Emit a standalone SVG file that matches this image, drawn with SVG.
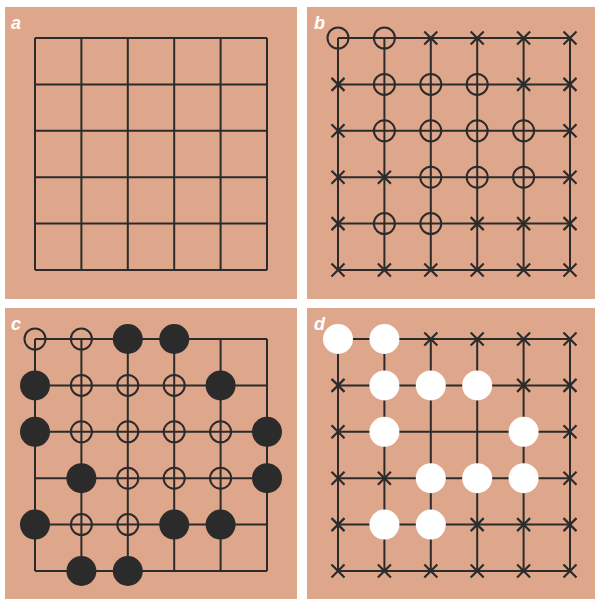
<svg xmlns="http://www.w3.org/2000/svg" width="595" height="599" viewBox="0 0 595 599">
<defs>
<style>
.bg{fill:#dea78b}
.grid{fill:none;stroke:#2b2b2b;stroke-width:2}
.o{fill:none;stroke:#2b2b2b;stroke-width:2}
.k{fill:#2b2b2b}
.w{fill:#ffffff}
.x{stroke:#2b2b2b;stroke-width:2.2;fill:none}
.lbl{font-family:"Liberation Sans",Arial,sans-serif;font-weight:bold;font-style:italic;font-size:18px;fill:#ffffff}
</style>
<path id="gridpath" d="M0 0H232M0 46.4H232M0 92.8H232M0 139.2H232M0 185.6H232M0 232H232M0 0V232M46.4 0V232M92.8 0V232M139.2 0V232M185.6 0V232M232 0V232"/>
<path id="xm" d="M-6.5 -6.5L6.5 6.5M-6.5 6.5L6.5 -6.5"/>
<circle id="oc" r="10.5"/>
<circle id="fc" r="15"/>
</defs>
<rect width="595" height="599" fill="#ffffff"/>

<g id="panel-a">
<rect class="bg" x="5" y="7" width="292" height="292"/>
<text class="lbl" x="11" y="29">a</text>
<use href="#gridpath" class="grid" x="35" y="38"/>
</g>

<g id="panel-b">
<rect class="bg" x="307" y="7" width="288" height="292"/>
<text class="lbl" x="314" y="29">b</text>
<use href="#gridpath" class="grid" x="338" y="38"/>
<g class="o">
<use href="#oc" x="338" y="38"/><use href="#oc" x="384.4" y="38"/>
<use href="#oc" x="384.4" y="84.4"/><use href="#oc" x="430.8" y="84.4"/><use href="#oc" x="477.2" y="84.4"/>
<use href="#oc" x="384.4" y="130.8"/><use href="#oc" x="430.8" y="130.8"/><use href="#oc" x="477.2" y="130.8"/><use href="#oc" x="523.6" y="130.8"/>
<use href="#oc" x="430.8" y="177.2"/><use href="#oc" x="477.2" y="177.2"/><use href="#oc" x="523.6" y="177.2"/>
<use href="#oc" x="384.4" y="223.6"/><use href="#oc" x="430.8" y="223.6"/>
</g>
<g class="x">
<use href="#xm" x="430.8" y="38"/><use href="#xm" x="477.2" y="38"/><use href="#xm" x="523.6" y="38"/><use href="#xm" x="570" y="38"/>
<use href="#xm" x="338" y="84.4"/><use href="#xm" x="523.6" y="84.4"/><use href="#xm" x="570" y="84.4"/>
<use href="#xm" x="338" y="130.8"/><use href="#xm" x="570" y="130.8"/>
<use href="#xm" x="338" y="177.2"/><use href="#xm" x="384.4" y="177.2"/><use href="#xm" x="570" y="177.2"/>
<use href="#xm" x="338" y="223.6"/><use href="#xm" x="477.2" y="223.6"/><use href="#xm" x="523.6" y="223.6"/><use href="#xm" x="570" y="223.6"/>
<use href="#xm" x="338" y="270"/><use href="#xm" x="384.4" y="270"/><use href="#xm" x="430.8" y="270"/><use href="#xm" x="477.2" y="270"/><use href="#xm" x="523.6" y="270"/><use href="#xm" x="570" y="270"/>
</g>
</g>

<g id="panel-c">
<rect class="bg" x="5" y="308" width="292" height="291"/>
<text class="lbl" x="11" y="330">c</text>
<use href="#gridpath" class="grid" x="35" y="339"/>
<g class="o">
<use href="#oc" x="35" y="339"/><use href="#oc" x="81.4" y="339"/>
<use href="#oc" x="81.4" y="385.4"/><use href="#oc" x="127.8" y="385.4"/><use href="#oc" x="174.2" y="385.4"/>
<use href="#oc" x="81.4" y="431.8"/><use href="#oc" x="127.8" y="431.8"/><use href="#oc" x="174.2" y="431.8"/><use href="#oc" x="220.6" y="431.8"/>
<use href="#oc" x="127.8" y="478.2"/><use href="#oc" x="174.2" y="478.2"/><use href="#oc" x="220.6" y="478.2"/>
<use href="#oc" x="81.4" y="524.6"/><use href="#oc" x="127.8" y="524.6"/>
</g>
<g class="k">
<use href="#fc" x="127.8" y="339"/><use href="#fc" x="174.2" y="339"/>
<use href="#fc" x="35" y="385.4"/><use href="#fc" x="220.6" y="385.4"/>
<use href="#fc" x="35" y="431.8"/><use href="#fc" x="267" y="431.8"/>
<use href="#fc" x="81.4" y="478.2"/><use href="#fc" x="267" y="478.2"/>
<use href="#fc" x="35" y="524.6"/><use href="#fc" x="174.2" y="524.6"/><use href="#fc" x="220.6" y="524.6"/>
<use href="#fc" x="81.4" y="571"/><use href="#fc" x="127.8" y="571"/>
</g>
</g>

<g id="panel-d">
<rect class="bg" x="307" y="308" width="288" height="291"/>
<text class="lbl" x="314" y="330">d</text>
<use href="#gridpath" class="grid" x="338" y="339"/>
<g class="w">
<use href="#fc" x="338" y="339"/><use href="#fc" x="384.4" y="339"/>
<use href="#fc" x="384.4" y="385.4"/><use href="#fc" x="430.8" y="385.4"/><use href="#fc" x="477.2" y="385.4"/>
<use href="#fc" x="384.4" y="431.8"/><use href="#fc" x="523.6" y="431.8"/>
<use href="#fc" x="430.8" y="478.2"/><use href="#fc" x="477.2" y="478.2"/><use href="#fc" x="523.6" y="478.2"/>
<use href="#fc" x="384.4" y="524.6"/><use href="#fc" x="430.8" y="524.6"/>
</g>
<g class="x">
<use href="#xm" x="430.8" y="339"/><use href="#xm" x="477.2" y="339"/><use href="#xm" x="523.6" y="339"/><use href="#xm" x="570" y="339"/>
<use href="#xm" x="338" y="385.4"/><use href="#xm" x="523.6" y="385.4"/><use href="#xm" x="570" y="385.4"/>
<use href="#xm" x="338" y="431.8"/><use href="#xm" x="570" y="431.8"/>
<use href="#xm" x="338" y="478.2"/><use href="#xm" x="384.4" y="478.2"/><use href="#xm" x="570" y="478.2"/>
<use href="#xm" x="338" y="524.6"/><use href="#xm" x="477.2" y="524.6"/><use href="#xm" x="523.6" y="524.6"/><use href="#xm" x="570" y="524.6"/>
<use href="#xm" x="338" y="571"/><use href="#xm" x="384.4" y="571"/><use href="#xm" x="430.8" y="571"/><use href="#xm" x="477.2" y="571"/><use href="#xm" x="523.6" y="571"/><use href="#xm" x="570" y="571"/>
</g>
</g>
</svg>
